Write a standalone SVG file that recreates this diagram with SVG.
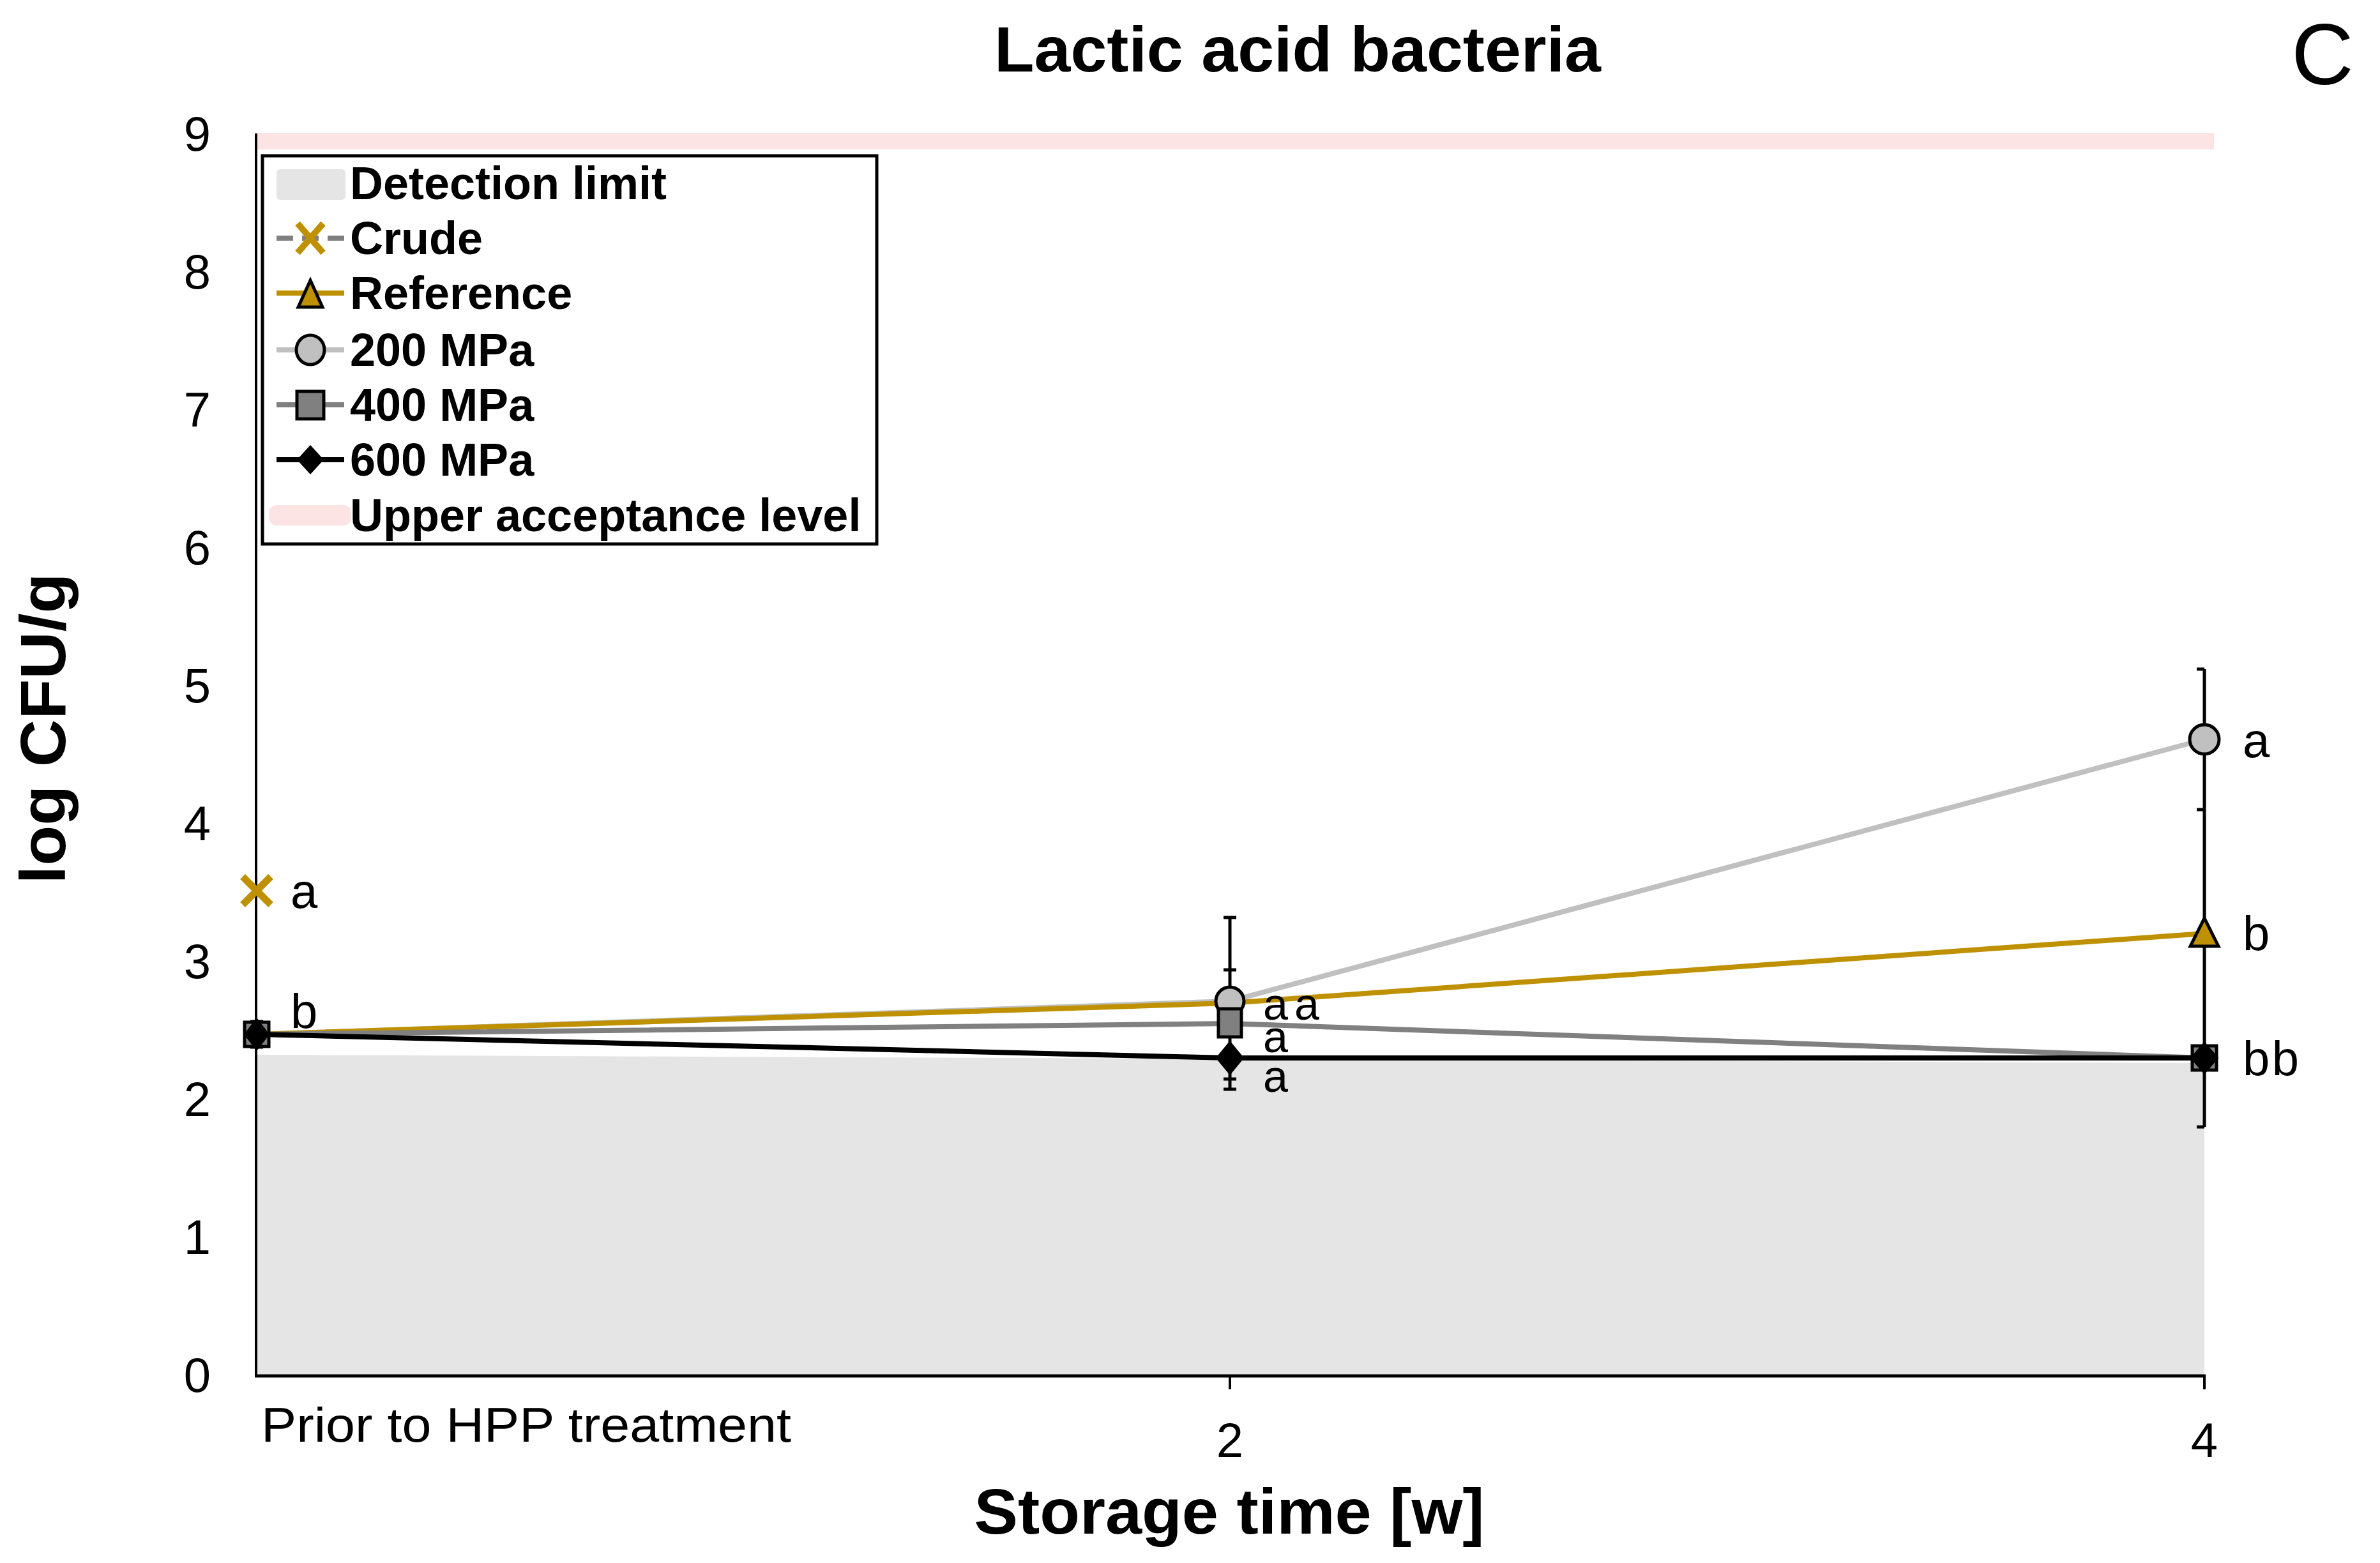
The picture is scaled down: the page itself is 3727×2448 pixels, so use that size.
<svg xmlns="http://www.w3.org/2000/svg" width="3727" height="2448" viewBox="0 0 3727 2448">
<style>
text{font-family:"Liberation Sans Narrow","Liberation Sans",Arial,sans-serif;fill:#000}
.t{font-size:76px}
.s{font-size:70px}
.b{font-weight:bold}
.lg{font-size:72px;font-weight:bold}
.gold{stroke:#bf9000;stroke-width:8;fill:none}
.lgray{stroke:#c0c0c0;stroke-width:8;fill:none}
.gray{stroke:#808080;stroke-width:8;fill:none}
.blk{stroke:#000;stroke-width:8;fill:none}
.err{stroke:#000;stroke-width:5;fill:none}
.mk{stroke:#000;stroke-width:5}
</style>
<rect width="3727" height="2448" fill="#fff"/>
<g id="plot-area">
<polygon points="402,1652 3452,1665 3452,2154 402,2154" fill="#e5e5e5"/>
<line x1="402" y1="221" x2="3467" y2="221" stroke="#fde4e4" stroke-width="26"/>
<line x1="401" y1="209" x2="401" y2="2156" stroke="#000" stroke-width="4"/>
<line x1="399" y1="2155" x2="3454" y2="2155" stroke="#000" stroke-width="5"/>
<line x1="1926" y1="2155" x2="1926" y2="2176" stroke="#000" stroke-width="4"/>
<line x1="3452" y1="2155" x2="3452" y2="2176" stroke="#000" stroke-width="4"/>
</g>
<g id="axis-labels">
<text class="t" x="330" y="2180" text-anchor="end">0</text>
<text class="t" x="330" y="1964" text-anchor="end">1</text>
<text class="t" x="330" y="1748" text-anchor="end">2</text>
<text class="t" x="330" y="1532" text-anchor="end">3</text>
<text class="t" x="330" y="1316" text-anchor="end">4</text>
<text class="t" x="330" y="1100" text-anchor="end">5</text>
<text class="t" x="330" y="884" text-anchor="end">6</text>
<text class="t" x="330" y="668" text-anchor="end">7</text>
<text class="t" x="330" y="452" text-anchor="end">8</text>
<text class="t" x="330" y="236" text-anchor="end">9</text>
<text class="t" x="409" y="2258" textLength="830" lengthAdjust="spacingAndGlyphs">Prior to HPP treatment</text>
<text class="t" x="1926" y="2282" text-anchor="middle">2</text>
<text class="t" x="3452" y="2282" text-anchor="middle">4</text>
<text class="b" x="2032" y="112" font-size="100" text-anchor="middle" textLength="950" lengthAdjust="spacingAndGlyphs">Lactic acid bacteria</text>
<text x="3637" y="132" font-size="135" text-anchor="middle" style="font-family:'Liberation Sans',Arial,sans-serif">C</text>
<text class="b" x="1925" y="2402" font-size="100" text-anchor="middle" textLength="799" lengthAdjust="spacingAndGlyphs">Storage time [w]</text>
<text class="b" transform="translate(102,1141) rotate(-90)" font-size="100" text-anchor="middle" textLength="487" lengthAdjust="spacingAndGlyphs">log CFU/g</text>
</g>
<g id="connectors">
<polyline class="lgray" points="402,1620 1926,1568 3452,1158"/>
<polyline class="gold" points="402,1620 1926,1571 3452,1462"/>
<polyline class="gray" points="402,1620 1926,1603 3452,1657"/>
<polyline class="blk" points="402,1620 1926,1657 3452,1657"/>
</g>
<g id="error-bars">
<path class="err" d="M402,1600V1640M392,1600H412M392,1640H412"/>
<path class="err" d="M1926,1437V1706M1916,1437H1936M1916,1519H1936M1916,1706H1936M1916,1690H1936"/>
<path class="err" d="M3452,1048V1765M3440,1048H3452M3440,1268H3452M3440,1765H3452"/>
</g>
<g id="node-crude">
<path d="M380,1373L424,1417M424,1373L380,1417" stroke="#bf9000" stroke-width="11"/>
<text class="t" x="455" y="1422">a</text>
</g>
<g id="node-t0">
<rect class="mk" x="383" y="1601" width="38" height="38" fill="#808080"/>
<path class="mk" d="M402,1598L419,1620L402,1642L385,1620Z" fill="#000"/>
<text class="t" x="455" y="1610">b</text>
</g>
<g id="node-2w">
<circle class="mk" cx="1926" cy="1568" r="22" fill="#c0c0c0"/>
<rect class="mk" x="1908" y="1580" width="36" height="44" fill="#808080"/>
<path class="mk" d="M1926,1634L1945,1657L1926,1680L1907,1657Z" fill="#000"/>
<text class="s" x="1978" y="1597" textLength="88" lengthAdjust="spacing">aa</text>
<text class="s" x="1978" y="1648">a</text>
<text class="s" x="1978" y="1710">a</text>
</g>
<g id="node-4w">
<circle class="mk" cx="3452" cy="1158" r="23" fill="#c0c0c0"/>
<polygon class="mk" points="3452,1438 3474,1482 3430,1482" fill="#bf9000"/>
<rect class="mk" x="3433" y="1638" width="38" height="38" fill="#808080"/>
<path class="mk" d="M3452,1635L3471,1657L3452,1679L3433,1657Z" fill="#000"/>
<text class="t" x="3512" y="1186">a</text>
<text class="t" x="3512" y="1488">b</text>
<text class="t" x="3512" y="1684" textLength="88" lengthAdjust="spacing">bb</text>
</g>
<g id="legend">
<rect x="411" y="244" width="962" height="608" fill="#fff" stroke="#000" stroke-width="5"/>
<rect x="433" y="265" width="108" height="48" rx="6" fill="#e5e5e5"/>
<text class="lg" x="548" y="312">Detection limit</text>
<line x1="433" y1="373" x2="539" y2="373" stroke="#808080" stroke-width="8" stroke-dasharray="26,14"/>
<path d="M466,350L506,396M506,350L466,396" stroke="#bf9000" stroke-width="10"/>
<text class="lg" x="548" y="398">Crude</text>
<line x1="433" y1="459" x2="539" y2="459" stroke="#bf9000" stroke-width="8"/>
<polygon class="mk" points="486,439 505,481 467,481" fill="#bf9000"/>
<text class="lg" x="548" y="484">Reference</text>
<line x1="433" y1="548" x2="539" y2="548" stroke="#c0c0c0" stroke-width="8"/>
<ellipse class="mk" cx="486" cy="548" rx="22" ry="23" fill="#c0c0c0"/>
<text class="lg" x="548" y="573">200 MPa</text>
<line x1="433" y1="634" x2="539" y2="634" stroke="#808080" stroke-width="8"/>
<rect class="mk" x="465" y="613" width="42" height="43" fill="#808080"/>
<text class="lg" x="548" y="659">400 MPa</text>
<line x1="433" y1="720" x2="539" y2="720" stroke="#000" stroke-width="8"/>
<path d="M486,697L507,720L486,743L465,720Z" fill="#000"/>
<text class="lg" x="548" y="745">600 MPa</text>
<rect x="421" y="791" width="129" height="32" rx="12" fill="#fde4e4"/>
<text class="lg" x="548" y="832">Upper acceptance level</text>
</g>
</svg>
